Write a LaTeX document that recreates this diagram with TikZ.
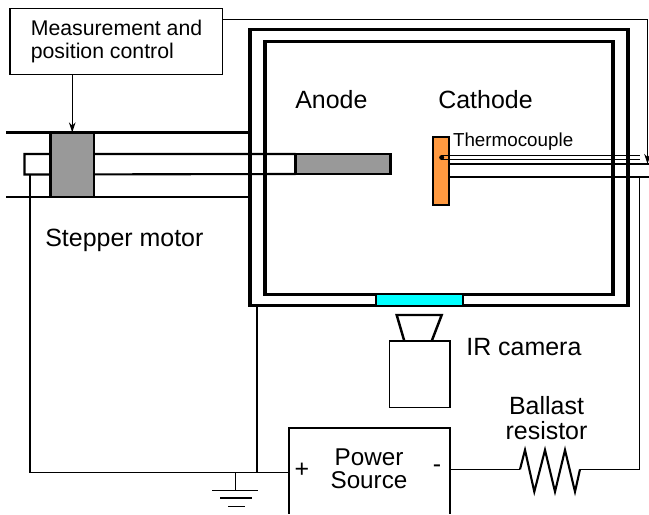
\documentclass[tikz,border=0pt]{standalone}
\usepackage{fontspec}
\setmainfont{Liberation Sans}
\usepackage{tikz}
\usetikzlibrary{shapes, arrows, arrows.meta, positioning, calc}

\definecolor{hublot}{RGB}{0,255,255}
\definecolor{orangecathode}{RGB}{255,153,64}

\tikzset{
    paroi/.style={draw, line width=1.8pt, minimum width=#1, outer sep=0pt, inner sep=0pt},
    rail/.style={line width=1.2pt},
    fil/.style={line width=0.8pt},
    fleche/.style={line width=0.8pt, -{Stealth[length=2mm, width=1.3mm]}},
    label/.style={anchor=base west, inner sep=0pt, font=\fontsize{14.2}{14.2}\selectfont},
    petit/.style={anchor=base west, inner sep=0pt, font=\fontsize{10.7}{10.7}\selectfont},
    piece/.style={draw, line width=1.3pt, outer sep=0pt, inner sep=0pt},
}

\begin{document}
\begin{tikzpicture}[x=0.02cm, y=-0.02cm]
    \useasboundingbox (0,0) rectangle (649,514);

    % Boitier de commande
    \node[draw, line width=0.6pt, outer sep=0pt, minimum width=4.25cm, minimum height=1.32cm] (control) at (116.25,41.5) {};
    \node[anchor=west, inner sep=0pt, align=left, font=\fontsize{12.1}{12.6}\selectfont] (controltext) at (30.5,41.5) {Measurement and\\position control};

    % Enceinte
    \node[paroi=7.56cm, minimum height=5.52cm] (outer) at (439,167.5) {};
    \node[paroi=6.96cm, minimum height=5.07cm] (inner) at (439,168) {};

    % Rails et tige du moteur
    \coordinate (railtop) at (6,132.5);
    \coordinate (railbottom) at (6,197);
    \draw[rail] (railtop) -- (railtop -| outer.west);
    \draw[rail] (railbottom) -- (railbottom -| outer.west);
    \node[piece, fill=black!40, minimum width=1.9cm, minimum height=0.4cm] (anode) at (343,164) {};
    \coordinate (rodtop) at (24.5,154.5);
    \coordinate (rodbottom) at (24.5,174.5);
    \draw[rail] (anode.north west) -- (anode.north west -| rodtop) -- (rodbottom) -- (anode.south west);
    \node[piece, fill=black!40, minimum width=0.87cm, minimum height=1.29cm] (motor) at (72.25,164.75) {};

    % Cathode et thermocouple
    \coordinate (catop) at (649,164);
    \coordinate (cabottom) at (649,176.7);
    \draw[rail] (441,164) -- (catop);
    \draw[rail] (441,176.7) -- (cabottom);
    \node[piece, fill=orangecathode, minimum width=0.326cm, minimum height=1.366cm] (cathode) at (440.85,170.85) {};
    \node[circle, fill=black, inner sep=0pt, minimum size=0.1cm] (junction) at (441.7,157.5) {};
    \coordinate (tcend) at (640,155.5);
    \coordinate (tcendb) at (640,159.2);
    \draw[line width=0.5pt] (441.7,155.5) -- (tcend);
    \draw[line width=0.5pt] (441.7,159.2) -- (tcendb);

    % Hublot et camera
    \node[draw, line width=0.6pt, fill=hublot, outer sep=0pt, minimum width=1.74cm, minimum height=0.2cm] (window) at (419.5,300) {};
    \node[draw, line width=0.9pt, outer sep=0pt, minimum width=1.21cm, minimum height=1.33cm] (camera) at (419.7,374.3) {};
    \coordinate (lensleft) at (396.7,315);
    \coordinate (lensright) at (441.7,315);
    \draw[line width=1.4pt] (404.3,341) -- (lensleft) -- (lensright) -- (431.7,341);

    % Source de tension
    \node[outer sep=0pt, inner sep=0pt, minimum width=3.22cm, minimum height=1.72cm] (power) at (369.5,471) {};
    \draw[line width=0.7pt] (power.south west) -- (power.north west) -- (power.north east) -- (power.south east);
    \node[inner sep=0pt, align=center, font=\fontsize{13.8}{13}\selectfont] (powertext) at (369,468.5) {Power\\Source};
    \node[inner sep=0pt, font=\fontsize{14.2}{14.2}\selectfont] (plus) at (302,470) {+};
    \node[inner sep=0pt, font=\fontsize{14.2}{14.2}\selectfont] (minus) at (437,469) {-};

    % Resistance
    \coordinate (resleft) at (520,469.3);
    \coordinate (resright) at (580,469.3);
    \draw[line width=1.2pt] (resleft) -- (525,450) -- (534.3,491.7) -- (545,450) -- (555,491.7) -- (565,450) -- (575,491.7) -- (resright);
    \draw[fil] (power.east |- resleft) -- (resleft);
    \coordinate (wirecorner) at (639.3,469.3);
    \draw[fil] (resright) -- (wirecorner) -- (wirecorner |- cabottom);

    % Masse
    \coordinate (groundnode) at (235.7,472.5);
    \coordinate (groundbar) at (235.7,490.7);
    \draw[fil] (groundnode) -- (groundbar);
    \draw[fil] (212,490.7) -- (258,490.7);
    \draw[fil] (220,498) -- (252,498);
    \draw[fil] (228,506.7) -- (245,506.7);
    \draw[fil] (30,174.5) -- (30,472.5) -- (power.west |- groundnode);
    \draw[fil] (257,306) -- (257,472.5);

    % Fils de commande
    \coordinate (topcorner) at (647.5,19.5);
    \coordinate (toptip) at (647.5,164);
    \draw[line width=0.6pt] (control.east |- topcorner) -- (topcorner);
    \draw[fleche] (topcorner) -- (toptip);
    \draw[fleche] (control.south -| motor.north) -- (motor.north);

    % Textes
    \node[label] (anodetext) at (295,108) {Anode};
    \node[label] (cathodetext) at (438,108) {Cathode};
    \node[petit] (tctext) at (452.7,146.5) {Thermocouple};
    \node[label] (steppertext) at (45,246.5) {Stepper motor};
    \node[label] (cameratext) at (466,355) {IR camera};
    \node[inner sep=0pt, align=center, font=\fontsize{14.2}{14}\selectfont] (ballasttext) at (546.5,418) {Ballast\\resistor};
\end{tikzpicture}
\end{document}
